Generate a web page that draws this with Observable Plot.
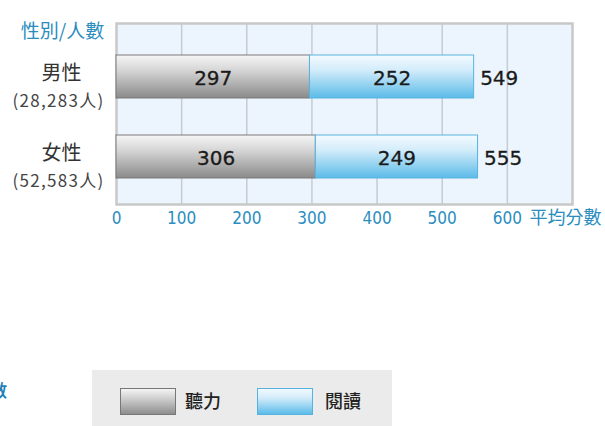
<!DOCTYPE html>
<html>
<head>
<meta charset="utf-8">
<script src="https://cdn.jsdelivr.net/npm/d3@7"></script>
<script src="https://cdn.jsdelivr.net/npm/@observablehq/plot@0.6"></script>
<style>
  html, body { margin: 0; padding: 0; background: #fff; }
  #wrap { position: relative; width: 605px; height: 426px; overflow: hidden; font-family: "Noto Sans CJK TC", "Noto Sans", sans-serif; }
  #legend { position: absolute; left: 92px; top: 370px; width: 300px; height: 56px; background: #ebebeb; }
  .sw { position: absolute; top: 18px; width: 56px; height: 27px; box-sizing: border-box; }
  .lt { position: absolute; top: 17px; font-size: 18px; line-height: 27px; color: #222; font-family: "Noto Sans CJK TC", sans-serif; font-weight: 500; }
  #frag { position: absolute; left: -10px; top: 377px; font-size: 17px; color: #1e7fb5; font-weight: bold; font-family: "Noto Sans CJK TC", sans-serif; }
</style>
</head>
<body>
<div id="wrap">
  <div id="chart"></div>
  <div id="frag">數</div>
  <div id="legend">
    <div class="sw" style="left:28px; border:1px solid #777; background: linear-gradient(#f4f4f4, #d2d2d2 35%, #8e8e8e);"></div>
    <div class="lt" style="left:93px;">聽力</div>
    <div class="sw" style="left:165px; border:1px solid #55b3e0; background: linear-gradient(#f2f9fe, #d3ecfa 35%, #5cbce9);"></div>
    <div class="lt" style="left:233px;">閱讀</div>
  </div>
</div>
<script>
const genders = ["男性", "女性"];
const counts = ["(28,283人)", "(52,583人)"];
const listening = [297, 306];
const reading = [252, 249];
const totals = [549, 555];
const xTicks = [0, 100, 200, 300, 400, 500, 600];
const grid = [100, 200, 300, 400, 500, 600];

const rows = genders.map((g, i) => ({
  gender: g, count: counts[i], listening: listening[i], reading: reading[i], total: totals[i]
}));

const blueText = "#2a8dc0";

const plot = Plot.plot({
  width: 605,
  height: 240,
  marginLeft: 116,
  marginRight: 33,
  marginTop: 23,
  marginBottom: 36,
  style: { fontFamily: "'Noto Sans CJK TC', sans-serif", overflow: "visible", background: "transparent" },
  x: { domain: [0, 700], axis: null },
  y: { domain: genders, axis: null, paddingInner: 0.4625, paddingOuter: 0.3625, align: 0.55 },
  marks: [
    Plot.frame({ fill: "#ecf5fd", stroke: "none" }),
    Plot.ruleX(grid, { stroke: "#c6cbd1", strokeWidth: 1.5 }),
    Plot.frame({ stroke: "#c8c8c8", strokeWidth: 2.5 }),
    Plot.barX(rows, { x1: 0, x2: "listening", y: "gender", fill: "url(#gGray)", stroke: "#7a7a7a", strokeWidth: 1 }),
    Plot.barX(rows, { x1: "listening", x2: "total", y: "gender", fill: "url(#gBlue)", stroke: "#58b4e0", strokeWidth: 1 }),
    Plot.text(rows, { x: d => d.listening / 2, y: "gender", text: d => String(d.listening), fontSize: 20, fill: "#1a1a1a", dy: 2, fontFamily: "DejaVu Sans", stroke: "#1a1a1a", strokeWidth: 0.3 }),
    Plot.text(rows, { x: d => d.listening + d.reading / 2, y: "gender", text: d => String(d.reading), fontSize: 20, fill: "#1a1a1a", dy: 2, fontFamily: "DejaVu Sans", stroke: "#1a1a1a", strokeWidth: 0.3 }),
    Plot.text(rows, { x: "total", y: "gender", text: d => String(d.total), fontSize: 20, fill: "#1a1a1a", dx: 6, dy: 2, textAnchor: "start", fontFamily: "DejaVu Sans", stroke: "#1a1a1a", strokeWidth: 0.3 }),
    Plot.text(rows, { x: 0, y: "gender", text: "gender", dx: -55, dy: -3, fontSize: 20, fill: "#333", fontFamily: "'Noto Sans CJK TC', sans-serif" }),
    Plot.text(rows, { x: 0, y: "gender", text: "count", dx: -58, dy: 25, fontSize: 17, fill: "#444", fontFamily: "'Noto Sans CJK TC', sans-serif" }),
    Plot.text(xTicks, { x: d => d, frameAnchor: "bottom", dy: 19, text: d => String(d), fontSize: 17, fill: blueText, fontFamily: "'Liberation Sans Narrow', 'DejaVu Sans Condensed', 'Roboto', sans-serif" }),
    Plot.text(["平均分數"], { frameAnchor: "bottom-right", dx: -43, dy: 19, text: d => d, fontSize: 18, fill: blueText, textAnchor: "start", fontFamily: "'Noto Sans CJK TC', sans-serif" }),
    Plot.text(["性別/人數"], { frameAnchor: "top-left", dx: -54, dy: 1, text: d => d, fontSize: 19, fill: blueText, textAnchor: "middle", fontFamily: "'Noto Sans CJK TC', sans-serif" })
  ]
});

const svg = d3.select(plot);
const defs = svg.insert("defs", ":first-child");
const g1 = defs.append("linearGradient").attr("id", "gGray").attr("x1", 0).attr("y1", 0).attr("x2", 0).attr("y2", 1);
g1.append("stop").attr("offset", "0%").attr("stop-color", "#f6f6f6");
g1.append("stop").attr("offset", "35%").attr("stop-color", "#d6d6d6");
g1.append("stop").attr("offset", "100%").attr("stop-color", "#8a8a8a");
const g2 = defs.append("linearGradient").attr("id", "gBlue").attr("x1", 0).attr("y1", 0).attr("x2", 0).attr("y2", 1);
g2.append("stop").attr("offset", "0%").attr("stop-color", "#f3faff");
g2.append("stop").attr("offset", "35%").attr("stop-color", "#d3ecfa");
g2.append("stop").attr("offset", "100%").attr("stop-color", "#5bbbe8");

// widen the head-count labels to match the reference's spacing
svg.selectAll("text").filter(function() { return counts.includes(this.textContent); })
  .style("letter-spacing", "1.3px");

document.getElementById("chart").appendChild(plot);
</script>
</body>
</html>
